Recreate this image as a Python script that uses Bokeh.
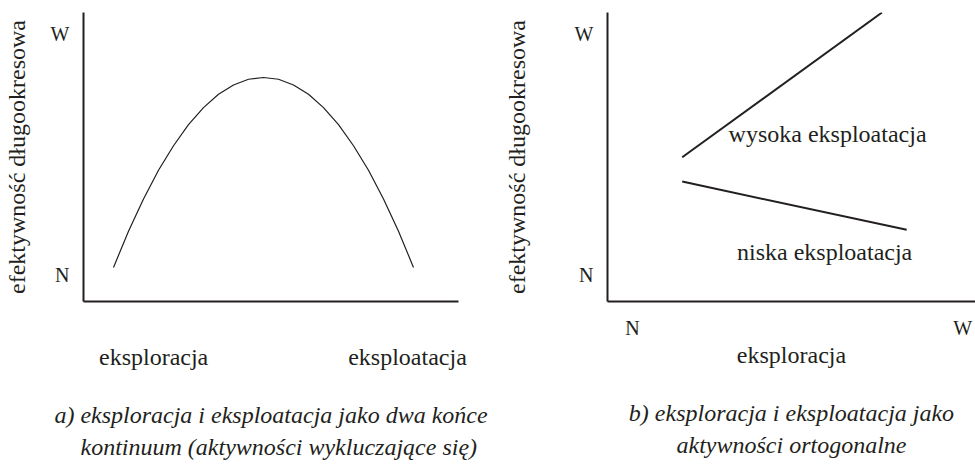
from bokeh.plotting import figure
from bokeh.models import Range1d, FixedTicker, LinearAxis, Title, ColumnDataSource
from bokeh.layouts import row
from bokeh.core.properties import value
from bokeh.embed import file_html
from bokeh.resources import INLINE

INK = "#231f20"
FONT = "Liberation Serif, Times New Roman, serif"

# ---- data (both axes 0..100) ----
# panel a: long-term performance along the exploration-exploitation continuum
curve_x = [8.0, 12.0, 16.0, 20.0, 24.0, 28.0, 32.0, 36.0, 40.0, 44.0, 48.0,
           52.0, 56.0, 60.0, 64.0, 68.0, 72.0, 76.0, 80.0, 84.0, 88.0]
curve_y = [11.8, 24.3, 35.5, 45.4, 53.9, 61.2, 67.1, 71.7, 74.9, 76.9, 77.5,
           76.9, 74.9, 71.7, 67.1, 61.2, 53.9, 45.4, 35.5, 24.3, 11.8]
a_x_ticks = [18.7, 86.4]
a_x_labels = ["eksploracja", "eksploatacja"]

# shared y ticks
y_ticks = [9.0, 92.4]
y_labels = ["N", "W"]
y_title = "efektywność długookresowa"

# panel b: two lines (high / low exploitation)
high_x = [20.3, 74.6]
high_y = [49.9, 100.0]
low_x = [20.3, 81.3]
low_y = [41.5, 24.8]
line_texts = ["wysoka eksploatacja", "niska eksploatacja"]
line_text_x = [59.8, 59.0]
line_text_y = [58.1, 17.0]
b_x_ticks = [6.8, 96.5]
b_x_labels = ["N", "W"]
b_x_title = "eksploracja"

# captions under each panel
caption_a = ["a) eksploracja i eksploatacja jako dwa końce",
             "kontinuum  (aktywności wykluczające się)"]
caption_b = ["b) eksploracja i eksploatacja jako",
             "aktywności ortogonalne"]


def base_fig(width, border_left, border_right, label_standoff):
    p = figure(width=width, height=467, output_backend="svg", toolbar_location=None,
               x_range=Range1d(0, 100), y_range=Range1d(0, 100),
               min_border_left=border_left, min_border_right=border_right,
               min_border_top=12, min_border_bottom=166)
    p.outline_line_color = None
    p.background_fill_color = "white"
    p.border_fill_color = "white"
    p.xgrid.visible = False
    p.ygrid.visible = False
    for ax in (p.xaxis[0], p.yaxis[0]):
        ax.axis_line_color = INK
        ax.axis_line_width = 2
        ax.major_tick_line_color = None
        ax.minor_tick_line_color = None
        ax.major_label_text_font = FONT
        ax.major_label_text_color = INK
        ax.axis_label_text_font = FONT
        ax.axis_label_text_font_style = "normal"
        ax.axis_label_text_color = INK
        ax.axis_label_text_font_size = "24px"
    yax = p.yaxis[0]
    yax.ticker = FixedTicker(ticks=y_ticks)
    yax.major_label_overrides = dict(zip(y_ticks, y_labels))
    yax.major_label_text_font_size = "20px"
    yax.major_label_orientation = "horizontal"
    yax.major_label_standoff = 8
    yax.axis_label = y_title
    yax.axis_label_standoff = label_standoff
    return p


def add_captions(p, lines, standoff1, align2, offset2):
    # first caption line: a bare axis (no line, no ticks) carrying only its label
    cap = LinearAxis(ticker=FixedTicker(ticks=[]), axis_label=lines[0],
                     axis_label_standoff=standoff1, axis_line_color=None,
                     major_tick_line_color=None, minor_tick_line_color=None,
                     major_tick_out=0, major_label_standoff=0,
                     axis_label_text_font=FONT, axis_label_text_font_size="24px",
                     axis_label_text_font_style="italic", axis_label_text_color=INK)
    p.add_layout(cap, "below")
    # second caption line
    p.add_layout(Title(text=lines[1], align=align2, offset=offset2,
                       vertical_align="top", standoff=6, text_font=FONT,
                       text_font_size="24px", text_font_style="italic",
                       text_color=INK), "below")


# ---- panel a ----
pa = base_fig(490, 83, 32, 18)
pa.line(curve_x, curve_y, line_color=INK, line_width=1.2)
xa = pa.xaxis[0]
xa.ticker = FixedTicker(ticks=a_x_ticks)
xa.major_label_overrides = dict(zip(a_x_ticks, a_x_labels))
xa.major_label_text_font_size = "24px"
xa.major_label_standoff = 36
add_captions(pa, caption_a, 29, "left", -3)

# ---- panel b ----
pb = base_fig(485, 117, 0, 42)
pb.line(high_x, high_y, line_color=INK, line_width=2)
pb.line(low_x, low_y, line_color=INK, line_width=2)
src = ColumnDataSource(dict(x=line_text_x, y=line_text_y, t=line_texts))
pb.text(x="x", y="y", text="t", source=src, text_font=value(FONT),
        text_font_size="24px", text_color=INK, text_align="center",
        text_baseline="middle")
xb = pb.xaxis[0]
xb.ticker = FixedTicker(ticks=b_x_ticks)
xb.major_label_overrides = dict(zip(b_x_ticks, b_x_labels))
xb.major_label_text_font_size = "20px"
xb.major_label_standoff = 9
xb.axis_label = b_x_title
xb.axis_label_standoff = 0
add_captions(pb, caption_b, 29, "center", 0)

layout = row(pa, pb, spacing=0)
open("out.html", "w").write(file_html(layout, INLINE))
